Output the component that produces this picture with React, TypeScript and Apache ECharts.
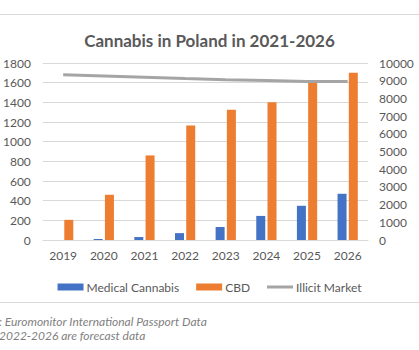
import React, { useEffect, useRef } from "react";
import * as echarts from "echarts";

const years = ["2019", "2020", "2021", "2022", "2023", "2024", "2025", "2026"];
const medicalCannabis = [0, 10, 30, 70, 132, 245, 348, 470];
const cbd = [205, 460, 860, 1165, 1325, 1400, 1610, 1700];
const illicitMarket = [9330, 9260, 9190, 9120, 9060, 9010, 8960, 8950];

const FONT = "Lato";

export default function App() {
  const ref = useRef<HTMLDivElement>(null);
  useEffect(() => {
    const chart = echarts.init(ref.current!, null, { renderer: "svg" });
    chart.setOption({
      animation: false,
      backgroundColor: "#ffffff",
      textStyle: { fontFamily: FONT },
      title: {
        text: "Cannabis in Poland in 2021-2026",
        left: "center",
        top: 27,
        textStyle: { fontFamily: FONT, fontSize: 17, fontWeight: "bold", color: "#595959" },
      },
      grid: { left: 40, right: 51, top: 63, bottom: 110, containLabel: false },
      legend: {
        top: 276,
        left: "center",
        itemWidth: 26,
        itemHeight: 7,
        itemGap: 17,
        textStyle: { fontFamily: FONT, fontSize: 12, color: "#595959", padding: [0, 0, 0, -2] },
        data: [
          { name: "Medical Cannabis", icon: "rect" },
          { name: "CBD", icon: "rect" },
          { name: "Illicit Market", icon: "path://M0 0M0 2H26V5H0ZM0 7" },
        ],
      },
      xAxis: {
        type: "category",
        data: years,
        axisLine: { lineStyle: { color: "#D9D9D9" } },
        axisTick: { show: false },
        axisLabel: { color: "#595959", fontSize: 12, fontFamily: FONT, margin: 9 },
      },
      yAxis: [
        {
          type: "value",
          min: 0,
          max: 1800,
          interval: 200,
          axisLine: { show: false },
          axisTick: { show: false },
          axisLabel: {
            color: "#595959",
            fontSize: 12,
            fontFamily: FONT,
            margin: 12,
            formatter: (v: number) => String(v),
          },
          splitLine: { lineStyle: { color: "#D9D9D9" } },
        },
        {
          type: "value",
          min: 0,
          max: 10000,
          interval: 1000,
          axisLine: { show: false },
          axisTick: { show: false },
          axisLabel: {
            color: "#595959",
            fontSize: 12,
            fontFamily: FONT,
            margin: 11,
            formatter: (v: number) => String(v),
          },
          splitLine: { show: false },
        },
      ],
      series: [
        {
          name: "Medical Cannabis",
          type: "bar",
          data: medicalCannabis,
          barWidth: 9,
          barGap: "25%",
          itemStyle: { color: "#4472C4" },
        },
        {
          name: "CBD",
          type: "bar",
          data: cbd,
          barWidth: 9,
          barGap: "25%",
          itemStyle: { color: "#ED7D31" },
        },
        {
          name: "Illicit Market",
          type: "line",
          yAxisIndex: 1,
          data: illicitMarket,
          symbol: "none",
          lineStyle: { color: "#A5A5A5", width: 3 },
          itemStyle: { color: "#A5A5A5" },
          z: 5,
        },
      ],
      graphic: [
        {
          type: "line",
          shape: { x1: 0, y1: 14.5, x2: 419, y2: 14.5 },
          style: { stroke: "#D9D9D9", lineWidth: 1 },
        },
        {
          type: "line",
          shape: { x1: 0, y1: 302.5, x2: 419, y2: 302.5 },
          style: { stroke: "#D9D9D9", lineWidth: 1 },
        },
        {
          type: "text",
          left: -1,
          top: 315,
          style: {
            text: ": Euromonitor International Passport Data",
            font: "italic 12px Lato",
            fill: "#7F7F7F",
          },
        },
        {
          type: "text",
          left: -1,
          top: 329,
          style: {
            text: "2022-2026 are forecast data",
            font: "italic 12px Lato",
            fill: "#7F7F7F",
          },
        },
      ],
    });
    return () => chart.dispose();
  }, []);
  return (
    <div
      ref={ref}
      style={{ position: "absolute", left: 0, top: 0, width: 419, height: 350 }}
    />
  );
}
